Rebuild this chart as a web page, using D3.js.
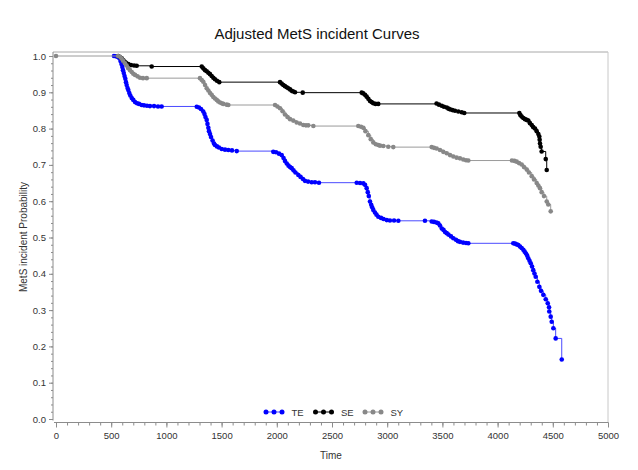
<!DOCTYPE html>
<html><head><meta charset="utf-8">
<script src="https://cdn.jsdelivr.net/npm/d3@7/dist/d3.min.js"></script>
<style>
body{margin:0;background:#fff}
svg{display:block}
text{font-family:"Liberation Sans",Arial,sans-serif}
</style>
</head><body>
<svg id="chart" width="638" height="470"></svg>
<script>
// ---------- data ----------
const chartTitle = "Adjusted MetS incident Curves";
const xAxisLabel = "Time";
const yAxisLabel = "MetS incident Probability";
const seriesNames = ["TE", "SE", "SY"];
const xTickValues = [0, 500, 1000, 1500, 2000, 2500, 3000, 3500, 4000, 4500, 5000];
const yTickValues = [0, 0.1, 0.2, 0.3, 0.4, 0.5, 0.6, 0.7, 0.8, 0.9, 1.0];
const yTickLabels = ["0.0", "0.1", "0.2", "0.3", "0.4", "0.5", "0.6", "0.7", "0.8", "0.9", "1.0"];

// [time, probability]
const teData = [
  [525,1.0],[544,0.999],[562,0.997],[575,0.994],[584,0.986],[593,0.978],[601,0.970],[607,0.961],
  [614,0.953],[621,0.945],[628,0.937],[634,0.928],[640,0.920],[648,0.912],[655,0.906],[664,0.898],
  [673,0.891],[686,0.884],[700,0.879],[716,0.873],[734,0.870],[752,0.868],[776,0.865],[797,0.864],
  [824,0.863],[851,0.862],[888,0.862],[924,0.861],[957,0.861],
  [1275,0.860],[1295,0.858],[1313,0.854],[1334,0.847],[1345,0.840],[1354,0.832],[1365,0.824],
  [1372,0.813],[1380,0.802],[1386,0.793],[1395,0.785],[1404,0.777],[1418,0.767],[1431,0.759],
  [1440,0.755],[1458,0.751],[1476,0.748],[1501,0.744],[1531,0.742],[1561,0.741],[1594,0.740],[1637,0.738],
  [1968,0.736],[1993,0.735],[2020,0.731],[2044,0.727],[2061,0.719],[2074,0.711],[2090,0.704],
  [2106,0.698],[2120,0.694],[2135,0.691],[2151,0.685],[2169,0.679],[2195,0.672],[2215,0.667],
  [2237,0.661],[2255,0.656],[2283,0.654],[2316,0.652],[2346,0.652],[2382,0.651],
  [2724,0.651],[2754,0.650],[2784,0.649],[2799,0.645],[2814,0.636],[2824,0.625],[2833,0.614],
  [2844,0.599],[2855,0.590],[2864,0.583],[2874,0.576],[2889,0.569],[2903,0.563],[2919,0.557],
  [2944,0.554],[2967,0.551],[2996,0.548],[3025,0.547],[3062,0.547],[3101,0.546],
  [3342,0.546],
  [3403,0.544],[3424,0.543],[3447,0.541],[3463,0.539],[3478,0.533],[3494,0.525],[3510,0.521],
  [3524,0.515],[3539,0.512],[3555,0.508],[3578,0.503],[3599,0.498],[3623,0.494],[3641,0.490],
  [3659,0.488],[3687,0.486],[3714,0.485],[3735,0.484],
  [4142,0.484],[4158,0.483],[4173,0.481],[4188,0.479],[4203,0.475],[4218,0.471],[4233,0.466],
  [4245,0.461],[4257,0.456],[4268,0.450],[4278,0.443],[4289,0.436],[4300,0.429],[4312,0.420],
  [4323,0.410],[4334,0.401],[4345,0.392],[4360,0.378],[4378,0.364],[4393,0.353],[4414,0.342],
  [4436,0.330],[4454,0.319],[4466,0.308],[4468,0.296],[4481,0.282],[4490,0.268],[4505,0.250],
  [4526,0.222],[4581,0.164]
];

const seData = [
  [564,1.0],[580,0.997],[595,0.994],[610,0.988],[622,0.984],[634,0.981],[655,0.978],[679,0.975],
  [707,0.974],[731,0.973],[867,0.971],
  [1320,0.971],[1334,0.966],[1350,0.961],[1365,0.958],[1380,0.954],[1395,0.950],[1410,0.945],
  [1425,0.940],[1440,0.936],[1458,0.932],[1479,0.928],
  [2029,0.928],[2044,0.924],[2059,0.920],[2074,0.917],[2090,0.914],[2104,0.911],[2120,0.908],
  [2135,0.904],[2150,0.902],[2165,0.900],[2235,0.899],
  [2769,0.899],[2783,0.897],[2799,0.893],[2814,0.888],[2829,0.882],[2844,0.876],[2859,0.873],
  [2874,0.870],[2894,0.868],[2919,0.868],
  [3447,0.869],[3469,0.866],[3494,0.863],[3514,0.860],[3539,0.858],[3555,0.855],[3569,0.853],
  [3591,0.851],[3614,0.849],[3644,0.847],[3675,0.845],[3698,0.843],
  [4197,0.843],[4207,0.837],[4218,0.833],[4233,0.829],[4248,0.826],[4264,0.824],[4278,0.822],
  [4293,0.815],[4309,0.810],[4323,0.804],[4339,0.800],[4354,0.793],[4369,0.785],[4378,0.778],
  [4381,0.769],[4384,0.759],[4390,0.750],[4399,0.737],[4436,0.716],[4445,0.686]
];

const syData = [
  [0,1.0],
  [562,1.0],[580,0.998],[593,0.993],[607,0.987],[625,0.980],[639,0.974],[652,0.967],[670,0.961],
  [686,0.956],[700,0.951],[716,0.948],[738,0.944],[761,0.940],[788,0.939],[822,0.939],
  [1304,0.939],[1320,0.934],[1334,0.929],[1350,0.920],[1365,0.911],[1380,0.905],[1395,0.898],
  [1410,0.893],[1425,0.887],[1440,0.883],[1456,0.879],[1470,0.875],[1486,0.872],[1501,0.870],
  [1515,0.868],[1546,0.866],[1561,0.865],
  [1984,0.865],[2006,0.861],[2029,0.856],[2052,0.848],[2074,0.839],[2097,0.832],[2120,0.826],
  [2149,0.822],[2180,0.817],[2210,0.814],[2240,0.810],[2264,0.809],[2285,0.809],[2331,0.807],
  [2738,0.807],[2763,0.805],[2784,0.802],[2803,0.793],[2829,0.782],[2851,0.771],[2874,0.762],
  [2897,0.757],[2919,0.755],[2935,0.753],[2965,0.752],[3010,0.750],[3055,0.749],
  [3403,0.749],[3424,0.747],[3448,0.745],[3478,0.741],[3508,0.736],[3539,0.732],[3569,0.727],
  [3599,0.723],[3629,0.720],[3659,0.718],[3689,0.715],[3714,0.713],[3735,0.712],
  [4130,0.712],[4153,0.711],[4173,0.709],[4194,0.705],[4218,0.701],[4239,0.694],[4264,0.687],
  [4284,0.679],[4309,0.669],[4330,0.660],[4354,0.650],[4369,0.643],[4384,0.636],[4399,0.625],
  [4420,0.614],[4445,0.599],[4459,0.591],[4481,0.572]
];

const seriesData = [teData, seData, syData];
const markerColors = ["#0000ff", "#000000", "#888888"];
const lineColors = ["#4a4aff", "#000000", "#9a9a9a"];

// ---------- layout ----------
const svg = d3.select("#chart");
const frame = {left: 53, right: 608, top: 52, bottom: 422.5};
const x = d3.scaleLinear().domain([0, 5000]).range([56, 608]);
const y = d3.scaleLinear().domain([0, 1]).range([419, 56]);
const axisColor = "#8c8c8c";

// frame
svg.append("line").attr("x1", frame.left).attr("x2", frame.right).attr("y1", frame.top).attr("y2", frame.top)
  .attr("stroke", "#a8a8a8").attr("stroke-width", 1);
svg.append("line").attr("x1", frame.right).attr("x2", frame.right).attr("y1", frame.top).attr("y2", frame.bottom)
  .attr("stroke", "#c8c8c8").attr("stroke-width", 1);

// x axis
const xMinor = d3.range(0, 5001, 100);
const xAxisG = svg.append("g").attr("transform", `translate(0,${frame.bottom})`);
xAxisG.call(d3.axisBottom(x).tickValues(xMinor).tickSize(3).tickFormat(""));
xAxisG.call(g => g.select(".domain").remove());
const xMajG = svg.append("g").attr("transform", `translate(0,${frame.bottom})`)
  .call(d3.axisBottom(x).tickValues(xTickValues).tickSize(5).tickPadding(5).tickFormat(d3.format("d")));
xMajG.select(".domain").attr("d", `M${frame.left + 1},0H${frame.right}`);
[xAxisG, xMajG].forEach(g => {
  g.selectAll("line").attr("stroke", axisColor);
  g.selectAll(".domain").attr("stroke", axisColor);
  g.selectAll("text").attr("fill", "#333").attr("font-size", "9.5px");
});

// y axis
const yMinor = d3.range(0, 51).map(i => i / 50);
const yAxisG = svg.append("g").attr("transform", `translate(${frame.left},0)`);
yAxisG.call(d3.axisLeft(y).tickValues(yMinor).tickSize(2).tickFormat(""));
yAxisG.select(".domain").remove();
const yMajG = svg.append("g").attr("transform", `translate(${frame.left},0)`)
  .call(d3.axisLeft(y).tickValues(yTickValues).tickSize(4).tickPadding(3)
    .tickFormat((d, i) => yTickLabels[i]));
yMajG.select(".domain").attr("d", `M0,${frame.top}V${frame.bottom - 2}`);
[yAxisG, yMajG].forEach(g => {
  g.selectAll("line").attr("stroke", axisColor);
  g.selectAll(".domain").attr("stroke", axisColor);
  g.selectAll("text").attr("fill", "#333").attr("font-size", "9.5px");
});

// curves
const line = d3.line().x(d => x(d[0])).y(d => y(d[1])).curve(d3.curveStepAfter);
seriesData.forEach((data, i) => {
  const g = svg.append("g");
  g.append("path").datum(data).attr("d", line).attr("fill", "none")
    .attr("stroke", lineColors[i]).attr("stroke-width", 1);
  g.selectAll("circle").data(data).join("circle")
    .attr("cx", d => x(d[0])).attr("cy", d => y(d[1])).attr("r", 2.3)
    .attr("fill", markerColors[i]);
});

// title & labels
svg.append("text").attr("x", 317).attr("y", 39).attr("text-anchor", "middle")
  .attr("font-size", "15px").attr("fill", "#111").text(chartTitle);
svg.append("text").attr("x", 331).attr("y", 459).attr("text-anchor", "middle")
  .attr("font-size", "10px").attr("fill", "#333").text(xAxisLabel);
svg.append("text").attr("transform", "translate(27,237) rotate(-90)").attr("text-anchor", "middle")
  .attr("font-size", "10px").attr("fill", "#333").text(yAxisLabel);

// legend
const legendX = [266, 315.5, 365];
const legendY = 412;
seriesNames.forEach((name, i) => {
  const g = svg.append("g");
  g.append("line").attr("x1", legendX[i]).attr("x2", legendX[i] + 16).attr("y1", legendY).attr("y2", legendY)
    .attr("stroke", lineColors[i]).attr("stroke-width", 1);
  [0, 8, 16].forEach(dx => g.append("circle").attr("cx", legendX[i] + dx).attr("cy", legendY).attr("r", 2.5)
    .attr("fill", markerColors[i]));
  g.append("text").attr("x", legendX[i] + 25.5).attr("y", legendY + 3.5).attr("font-size", "9.5px")
    .attr("fill", "#333").text(name);
});
</script>
</body></html>
